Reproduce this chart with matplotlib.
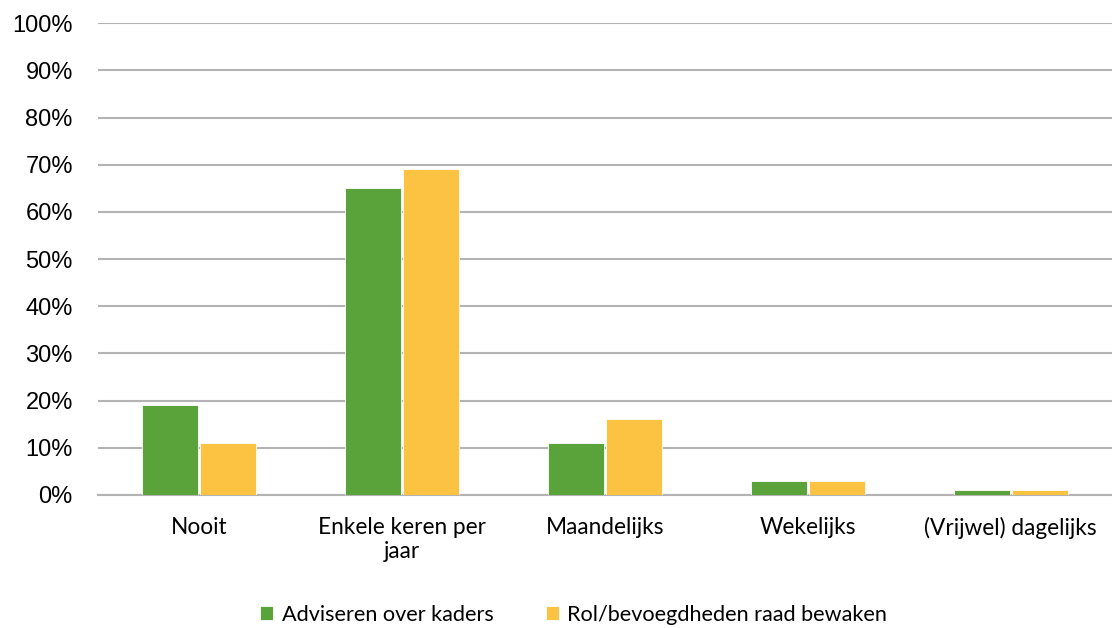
import matplotlib
matplotlib.use("Agg")
import matplotlib.pyplot as plt
import numpy as np
from matplotlib.ticker import FuncFormatter, MultipleLocator

categories = ["Nooit", "Enkele keren per\njaar", "Maandelijks", "Wekelijks", "(Vrijwel) dagelijks"]
series_names = ["Adviseren over kaders", "Rol/bevoegdheden raad bewaken"]
adviseren = [19, 65, 11, 3, 1]
rol = [11, 69, 16, 3, 1]
colors = ["#5aa33a", "#fcc342"]

plt.rcParams['font.family'] = ['Liberation Sans', 'DejaVu Sans']
fig = plt.figure(figsize=(11.12, 6.28), dpi=100)
ax = fig.add_axes([0.088, 0.212, 0.912, 0.751])

x = np.arange(len(categories))
w = 0.276
ax.bar(x - w/2 - 0.005, adviseren, w, color=colors[0], label=series_names[0], edgecolor="white", linewidth=0.6, zorder=3)
ax.bar(x + w/2 + 0.005, rol, w, color=colors[1], label=series_names[1], edgecolor="white", linewidth=0.6, zorder=3)

ax.set_xlim(-0.5, len(categories) - 0.5)
ax.set_ylim(0, 100)
ax.yaxis.set_major_locator(MultipleLocator(10))
ax.yaxis.set_major_formatter(FuncFormatter(lambda v, p: f"{int(v)}%"))
ax.grid(axis="y", color="#b3b3b3", linewidth=1.5, zorder=0)
for s in ["top", "right", "left"]:
    ax.spines[s].set_visible(False)
ax.spines["bottom"].set_color("#b3b3b3")
ax.spines["bottom"].set_linewidth(1.5)
ax.tick_params(axis="both", length=0)
ax.tick_params(axis="y", labelsize=17, pad=18, colors="black")
ax.set_xticks(x)
ax.set_xticklabels(categories, fontsize=16.3, linespacing=1.2, family=["Lato", "DejaVu Sans"])
ax.tick_params(axis="x", pad=16)

fig.legend(loc="center", bbox_to_anchor=(0.516, 0.021), ncol=2, frameon=False,
           prop={"family": ["Lato", "DejaVu Sans"], "size": 15.6},
           handlelength=0.6, handleheight=0.6, columnspacing=2.4, handletextpad=0.4)

fig.savefig("out.png", dpi=100)
